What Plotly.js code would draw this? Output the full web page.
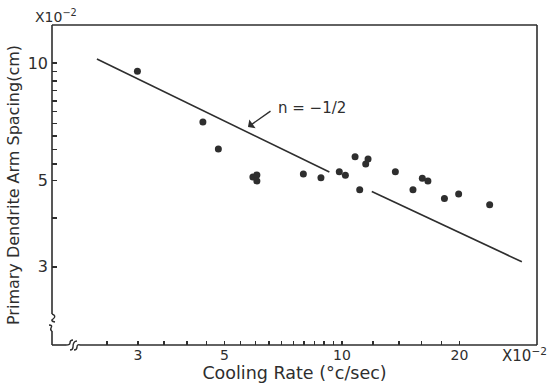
<!DOCTYPE html>
<html>
<head>
<meta charset="utf-8">
<script src="https://cdn.plot.ly/plotly-3.0.1.min.js"></script>
<style>
html,body{margin:0;padding:0;background:#fff;}
#chart{width:553px;height:384px;}
</style>
</head>
<body>
<div id="chart"></div>
<script>
// Data (x: cooling rate ×10^-2 °C/s, y: spacing ×10^-2 cm)
const coolingRate = [2.99, 4.40, 4.82, 5.91, 6.05, 6.05, 7.96, 8.83, 9.84, 10.2, 10.8, 11.66, 11.5, 11.1, 13.7, 16.06, 16.6, 15.2, 18.3, 19.9, 23.9];
const armSpacing  = [9.52, 7.06, 6.02, 5.10, 5.16, 4.98, 5.19, 5.08, 5.26, 5.15, 5.75, 5.67, 5.51, 4.73, 5.26, 5.06, 4.98, 4.73, 4.49, 4.61, 4.33];

// Fitted line n = -1/2 (drawn with a gap where it passes the points)
const lineX = [2.354, 9.28, null, 11.92, 28.9];
const lineY = [10.24, 5.25, null, 4.68, 3.09];

// Tick marks and labels
const xTickVals = [2.5, 3, 3.5, 4, 4.5, 5, 5.5, 6, 6.5, 7, 7.5, 8, 8.5, 9, 9.5, 10, 12, 14, 16, 18, 20];
const xTickText = ['', '3', '', '', '', '5', '', '', '', '', '', '', '', '', '', '10', '', '', '', '', '20'];
const yTickVals = [3, 4, 5, 5.5, 6, 6.5, 7, 7.5, 8, 8.5, 9, 9.5, 10];
const yTickText = ['3', '', '5', '', '', '', '', '', '', '', '', '', '10'];

const ink = '#2e2e2e';
const FONT = 'DejaVu Sans, Liberation Sans, sans-serif';

// plot area in pixels
const L = 52, R = 537, T = 25, B = 345;
const W = 553, H = 384;
function P(x, y) { return ((x - L) / (R - L)).toFixed(5) + ',' + ((B - y) / (B - T)).toFixed(5); }
function seg(x0, y0, x1, y1) {
  return {type: 'path', xref: 'paper', yref: 'paper', path: 'M' + P(x0, y0) + ' L' + P(x1, y1), line: {color: ink, width: 1.6}};
}
function pth(d) {
  return {type: 'path', xref: 'paper', yref: 'paper', path: d, line: {color: ink, width: 1.4}};
}

const shapes = [
  seg(L, T, R, T),
  seg(R, T, R, B),
  seg(80, B, R, B),
  seg(L, T, L, 314),
  seg(L, 331, L, B),
  seg(L, B, 66, B),
  // y-axis break marks
  pth('M' + P(L, 314) + ' Q' + P(57, 316) + ' ' + P(53, 319) + ' Q' + P(50, 321) + ' ' + P(55, 322)),
  pth('M' + P(49, 325) + ' Q' + P(53, 325) + ' ' + P(51, 328) + ' Q' + P(50, 330) + ' ' + P(L, 331)),
  // x-axis break marks
  pth('M' + P(66, B) + ' Q' + P(70, 345) + ' ' + P(70, 343) + ' Q' + P(70, 340) + ' ' + P(73, 340)),
  pth('M' + P(70, 350) + ' Q' + P(73, 350) + ' ' + P(73, 347) + ' Q' + P(73, 341) + ' ' + P(77, 341)),
  pth('M' + P(74, 350) + ' Q' + P(77, 350) + ' ' + P(77, 347) + ' Q' + P(77, 344) + ' ' + P(80, B))
];

const traces = [
  {x: lineX, y: lineY, type: 'scatter', mode: 'lines', line: {color: ink, width: 1.6}, connectgaps: false, hoverinfo: 'skip'},
  {x: coolingRate, y: armSpacing, type: 'scatter', mode: 'markers', marker: {color: ink, size: 7}}
];

const layout = {
  width: W, height: H,
  margin: {l: L, r: W - R, t: T, b: H - B, pad: 0},
  paper_bgcolor: '#ffffff', plot_bgcolor: '#ffffff',
  showlegend: false,
  font: {family: FONT, color: ink},
  xaxis: {
    type: 'log', range: [Math.log10(1.806), Math.log10(31.6)],
    showline: false, showgrid: false, zeroline: false,
    ticks: 'inside', ticklen: 4, tickwidth: 1.5, tickcolor: ink,
    tickmode: 'array', tickvals: xTickVals, ticktext: xTickText, tickangle: 0,
    tickfont: {family: FONT, size: 14, color: ink}, ticklabelstandoff: 0,
    title: {text: 'Cooling Rate (°c/sec)', font: {family: FONT, size: 17.5, color: ink}, standoff: 2},
    automargin: false
  },
  yaxis: {
    type: 'log', range: [Math.log10(1.89), Math.log10(12.52)],
    showline: false, showgrid: false, zeroline: false,
    ticks: 'inside', ticklen: 5, tickwidth: 1.5, tickcolor: ink,
    tickmode: 'array', tickvals: yTickVals, ticktext: yTickText, tickangle: 0,
    tickfont: {family: FONT, size: 16, color: ink}, ticklabelstandoff: 3,
    title: {text: 'Primary Dendrite Arm Spacing(cm)', font: {family: FONT, size: 16, color: ink}, standoff: 4},
    automargin: false
  },
  shapes: shapes,
  annotations: [
    {xref: 'paper', yref: 'paper', x: (33 - L) / (R - L), y: (B - 16) / (B - T), xanchor: 'left', yanchor: 'middle',
     text: 'X10<sup>−2</sup>', showarrow: false, font: {family: FONT, size: 14, color: ink}},
    {xref: 'paper', yref: 'paper', x: (500 - L) / (R - L), y: (B - 355) / (B - T), xanchor: 'left', yanchor: 'middle',
     text: 'X10<sup>−2</sup>', showarrow: false, font: {family: FONT, size: 15, color: ink}},
    {xref: 'paper', yref: 'paper', x: (276 - L) / (R - L), y: (B - 108) / (B - T), xanchor: 'left', yanchor: 'middle',
     text: 'n = −1/2', showarrow: false, font: {family: FONT, size: 15, color: ink}},
    {xref: 'paper', yref: 'paper', x: (248 - L) / (R - L), y: (B - 127) / (B - T), text: '', showarrow: true,
     ax: 24, ay: -17, arrowhead: 1, arrowsize: 1.3, arrowwidth: 1.4, arrowcolor: ink, standoff: 0}
  ]
};

Plotly.newPlot('chart', traces, layout, {staticPlot: true, displayModeBar: false});
</script>
</body>
</html>
